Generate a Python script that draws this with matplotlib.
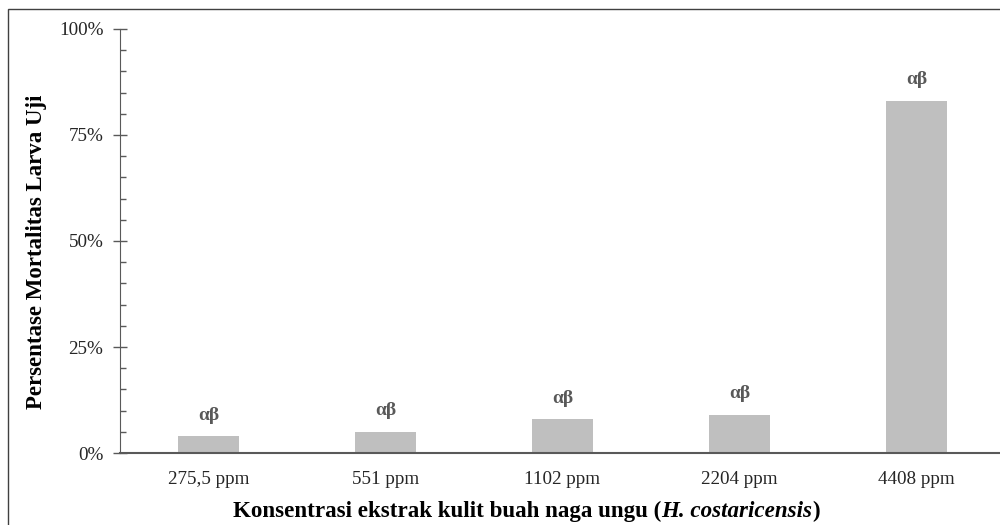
import matplotlib
matplotlib.use('Agg')
import matplotlib.pyplot as plt
from matplotlib.patches import Rectangle
from matplotlib.ticker import MultipleLocator, PercentFormatter

# data
konsentrasi = ['275,5 ppm', '551 ppm', '1102 ppm', '2204 ppm', '4408 ppm']
mortalitas = [4, 5, 8, 9, 83]  # percent
notasi = ['αβ', 'αβ', 'αβ', 'αβ', 'αβ']

plt.rcParams['font.family'] = ['Liberation Serif', 'DejaVu Serif']

fig = plt.figure(figsize=(10, 5.25), dpi=100)
ax = fig.add_axes([0.120, 0.137, 0.885, 0.808])

x = range(len(konsentrasi))
bars = ax.bar(x, mortalitas, width=0.34, color='#bfbfbf', zorder=2)

for b, lab in zip(bars, notasi):
    ax.annotate(lab, (b.get_x() + b.get_width() / 2, b.get_height()),
                xytext=(0, 9), textcoords='offset points', ha='center', va='bottom',
                fontsize=14, fontweight='bold', color='#595959')

ax.set_xlim(-0.5, len(konsentrasi) - 0.5)
ax.set_ylim(0, 100)
ax.set_xticks(list(x))
ax.set_xticklabels(konsentrasi, fontsize=13.8, color='#262626')
ax.yaxis.set_major_locator(MultipleLocator(25))
ax.yaxis.set_minor_locator(MultipleLocator(5))
ax.yaxis.set_major_formatter(PercentFormatter(decimals=0))
ax.tick_params(axis='y', which='major', direction='inout', length=10, width=1,
               color='#595959', labelsize=13.8, labelcolor='#262626', pad=7)
ax.tick_params(axis='y', which='minor', direction='in', length=4, width=1, color='#595959')
ax.tick_params(axis='x', length=0, pad=13)

for s in ['top', 'right']:
    ax.spines[s].set_visible(False)
ax.spines['left'].set_color('#595959')
ax.spines['bottom'].set_color('#595959')
ax.spines['bottom'].set_linewidth(1.5)

fig.text(0.037, 0.52, 'Persentase Mortalitas Larva Uji', rotation=90, ha='center', va='center',
         fontsize=16.5, fontweight='bold')

t1 = fig.text(0.233, 0.016, 'Konsentrasi ekstrak kulit buah naga ungu (', ha='left', va='baseline',
              fontsize=16.6, fontweight='bold')
t2 = ax.annotate('H. costaricensis', xy=(1, 0), xycoords=t1, ha='left', va='bottom',
                 fontsize=16.6, fontweight='bold', fontstyle='italic', annotation_clip=False)
ax.annotate(')', xy=(1, 0), xycoords=t2, ha='left', va='bottom',
            fontsize=16.6, fontweight='bold', annotation_clip=False)

# outer frame
fig.patches.append(Rectangle((0.008, -0.05), 1.2, 1.05 - 9 / 525, transform=fig.transFigure,
                             fill=False, edgecolor='#404040', linewidth=1))

fig.savefig('out.png', dpi=100)
